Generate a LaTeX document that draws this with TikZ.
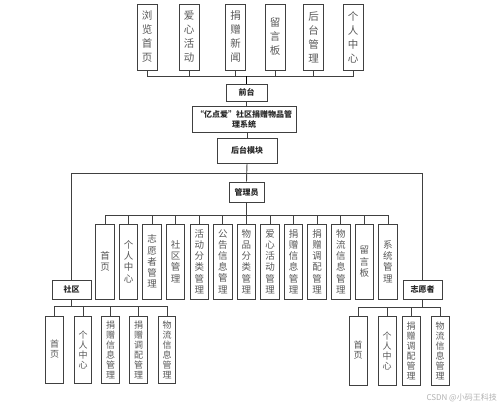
\documentclass[tikz,border=0pt]{standalone}
\usepackage{fontspec}
\newfontfamily\cjk{Noto Sans CJK SC}
\begin{document}
\begin{tikzpicture}[x=1pt,y=-1pt,
  ln/.style={draw=black!75,line width=0.9pt},
  bx/.style={draw=black!75,line width=1pt,fill=white,inner sep=0pt,align=center,text=black!65},
  topv/.style={bx,minimum width=20pt,minimum height=66pt,font={\cjk\fontsize{10.5}{14}\selectfont}},
  admv/.style={bx,minimum width=18.5pt,minimum height=75pt,font={\cjk\fontsize{9.5}{11.2}\selectfont}},
  subv/.style={bx,minimum width=17.5pt,minimum height=67pt,font={\cjk\fontsize{9}{10}\selectfont}},
  hb/.style={bx,text=black!85,font={\cjk\bfseries\fontsize{8}{10}\selectfont}}]
\useasboundingbox (0,0) rectangle (500,407);
\fill[white] (0,0) rectangle (500,407);

% top boxes
\node[topv] (t1) at (147,37) {浏\\览\\首\\页};
\node[topv] (t2) at (189,37) {爱\\心\\活\\动};
\node[topv] (t3) at (235.5,37) {捐\\赠\\新\\闻};
\node[topv] (t4) at (275,37) {留\\言\\板};
\node[topv] (t5) at (313.5,37) {后\\台\\管\\理};
\node[topv] (t6) at (353,37) {个\\人\\中\\心};

\node[hb,minimum width=41pt,minimum height=17pt] (qt) at (246.5,92.5) {前台};
\node[hb,minimum width=104pt,minimum height=26pt] (sys) at (244,119) {“亿点爱”社区捐赠物品管\\理系统};
\node[hb,minimum width=60pt,minimum height=25pt] (ht) at (247,150.5) {后台模块};
\node[hb,minimum width=35pt,minimum height=20pt] (gly) at (246.5,192) {管理员};

\coordinate (bus1) at (246.5,76);
\coordinate (bus2) at (246.5,173);
\coordinate (bus3) at (246.5,215);

\foreach \i in {1,...,6} {\draw[ln] (t\i.south) |- (bus1);}
\draw[ln,line width=1.2pt,draw=black] (bus1) -- (qt.north);
\draw[ln] (qt.south) -- (qt.south |- sys.north);
\draw[ln] (sys.south -| ht.north) -- (ht.north);
\draw[ln] (ht.south) -- (gly.north);

% admin children
\foreach \t [count=\i from 0] in {首\\页,个\\人\\中\\心,志\\愿\\者\\管\\理,社\\区\\管\\理,活\\动\\分\\类\\管\\理,公\\告\\信\\息\\管\\理,物\\品\\分\\类\\管\\理,爱\\心\\活\\动\\管\\理,捐\\赠\\信\\息\\管\\理,捐\\赠\\调\\配\\管\\理,物\\流\\信\\息\\管\\理,留\\言\\板,系\\统\\管\\理} {
  \node[admv] (a\i) at ({105+23.58*\i},261.5) {\t};
  \draw[ln] (a\i.north) |- (bus3);
}
\draw[ln] (gly.south) -- (bus3);

% community
\node[hb,minimum width=39pt,minimum height=19pt] (sq) at (71.5,289.5) {社区};
\node[hb,minimum width=39pt,minimum height=19pt] (zy) at (422.5,289.5) {志愿者};
\draw[ln] (sq.north) |- (bus2);
\draw[ln] (zy.north) |- (bus2);

\coordinate (sbus) at (71.5,306);
\draw[ln] (sq.south) -- (sbus);
\foreach \t/\x [count=\i] in {首\\页/54.5,个\\人\\中\\心/83,捐\\赠\\信\\息\\管\\理/110.5,捐\\赠\\调\\配\\管\\理/138.5,物\\流\\信\\息\\管\\理/167} {
  \node[subv] (s\i) at (\x,349.5) {\t};
  \draw[ln] (s\i.north) |- (sbus);
}

\coordinate (vbus) at (422.5,307);
\draw[ln] (zy.south) -- (vbus);
\foreach \t/\x [count=\i] in {首\\页/358,个\\人\\中\\心/387,捐\\赠\\调\\配\\管\\理/411,物\\流\\信\\息\\管\\理/440} {
  \node[subv,minimum width=18pt,minimum height=69pt] (v\i) at (\x,350.5) {\t};
  \draw[ln] (v\i.north) |- (vbus);
}

\node[text=black!30,font={\cjk\fontsize{8}{10}\selectfont},anchor=east,inner sep=0pt] (wm) at (497,398) {CSDN @小码王科技};
\end{tikzpicture}
\end{document}
